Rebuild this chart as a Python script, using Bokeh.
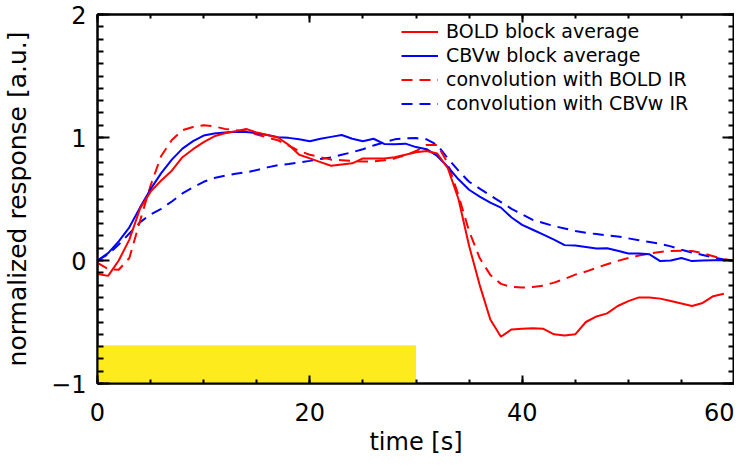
import numpy as np
from bokeh.plotting import figure
from bokeh.models import LinearAxis, FixedTicker, Legend, LegendItem, Range1d
from bokeh.embed import file_html
from bokeh.resources import INLINE

# ---------------- data ----------------
time_s = list(range(0, 61))

bold_block_avg = [-0.11, -0.125, 0.0, 0.17, 0.42, 0.56, 0.65, 0.73, 0.84, 0.905,
                  0.963, 1.01, 1.035, 1.05, 1.07, 1.04, 1.02, 1.0, 0.94, 0.86,
                  0.83, 0.80, 0.77, 0.78, 0.79, 0.83, 0.83, 0.83, 0.84, 0.86,
                  0.88, 0.89, 0.87, 0.75, 0.50, 0.12, -0.20, -0.48, -0.62, -0.56,
                  -0.555, -0.55, -0.555, -0.60, -0.61, -0.60, -0.50, -0.455, -0.43, -0.37,
                  -0.33, -0.30, -0.30, -0.31, -0.33, -0.35, -0.37, -0.345, -0.29, -0.27]

cbvw_block_avg = [0.0, 0.06, 0.156, 0.27, 0.43, 0.58, 0.71, 0.82, 0.91, 0.97,
                  1.016, 1.033, 1.04, 1.047, 1.045, 1.035, 1.02, 1.003, 0.997, 0.985,
                  0.97, 0.99, 1.005, 1.02, 0.99, 0.97, 0.99, 0.948, 0.945, 0.95,
                  0.922, 0.905, 0.85, 0.76, 0.66, 0.575, 0.52, 0.47, 0.43, 0.35,
                  0.29, 0.25, 0.21, 0.17, 0.125, 0.122, 0.11, 0.097, 0.10, 0.08,
                  0.057, 0.057, 0.05, -0.005, 0.0, 0.02, -0.005, 0.0, 0.003, 0.005, 0.0]

conv_bold_ir = [-0.02, -0.07, -0.075, 0.02, 0.32, 0.61, 0.85, 0.98, 1.06, 1.085,
                1.10, 1.09, 1.07, 1.06, 1.05, 1.025, 1.0, 0.977, 0.935, 0.89,
                0.86, 0.84, 0.82, 0.815, 0.81, 0.805, 0.805, 0.815, 0.83, 0.855,
                0.89, 0.94, 0.94, 0.79, 0.53, 0.24, 0.02, -0.117, -0.19, -0.215,
                -0.22, -0.215, -0.205, -0.18, -0.15, -0.115, -0.09, -0.06, -0.03, -0.003,
                0.02, 0.04, 0.057, 0.07, 0.078, 0.08, 0.077, 0.06, 0.035, 0.01, 0.0]

conv_cbvw_ir = [0.0, 0.05, 0.13, 0.22, 0.31, 0.375, 0.42, 0.48, 0.545, 0.595,
                0.64, 0.67, 0.69, 0.705, 0.717, 0.735, 0.757, 0.775, 0.785, 0.797,
                0.81, 0.825, 0.838, 0.86, 0.88, 0.905, 0.935, 0.96, 0.985, 0.993,
                0.995, 0.985, 0.94, 0.83, 0.73, 0.64, 0.585, 0.53, 0.475, 0.42,
                0.375, 0.33, 0.305, 0.28, 0.26, 0.24, 0.225, 0.215, 0.205, 0.196,
                0.18, 0.165, 0.15, 0.135, 0.115, 0.088, 0.065, 0.045, 0.025, 0.008, 0.0]

series_labels = ["BOLD block average", "CBVw block average",
                 "convolution with BOLD IR", "convolution with CBVw IR"]

stim_start = [0]
stim_end = [30]
stim_bar_bottom = [-1.0]
stim_bar_top = [-0.69]

x_major = [0, 20, 40, 60]
x_minor = list(range(0, 61, 5))
y_major = [-1, 0, 1, 2]
y_minor = [round(-1 + 0.1 * i, 1) for i in range(31)]
y_label_overrides = {-1: "\u22121"}

# ---------------- styling ----------------
FONT = "DejaVu Sans"
RED = "#FF0000"
BLUE = "#0000FF"
YELLOW = "#FDEB1E"

p = figure(width=734, height=462, output_backend="svg", toolbar_location=None,
           x_range=Range1d(0, 60), y_range=Range1d(-1, 2),
           min_border_left=88, min_border_right=0, min_border_top=14,
           min_border_bottom=79,
           x_axis_label="time [s]", y_axis_label="normalized response [a.u.]")
p.xgrid.visible = False
p.ygrid.visible = False
p.outline_line_color = "black"
p.outline_line_width = 2
p.background_fill_color = "white"
p.border_fill_color = "white"

p.quad(left=stim_start, right=stim_end, bottom=stim_bar_bottom, top=stim_bar_top,
       fill_color=YELLOW, line_color=None)

r4 = p.line(time_s, conv_cbvw_ir, line_color=BLUE, line_width=2, line_dash="11 7")
r3 = p.line(time_s, conv_bold_ir, line_color=RED, line_width=2, line_dash="11 7")
r2 = p.line(time_s, cbvw_block_avg, line_color=BLUE, line_width=2)
r1 = p.line(time_s[:len(bold_block_avg)], bold_block_avg, line_color=RED, line_width=2)


def style_axis(ax, tick_in, minor_in):
    ax.axis_line_width = 2
    ax.axis_line_color = "black"
    ax.major_tick_line_width = 2
    ax.minor_tick_line_width = 2
    ax.major_tick_line_color = "black"
    ax.minor_tick_line_color = "black"
    ax.major_tick_in = tick_in
    ax.major_tick_out = 0
    ax.minor_tick_in = minor_in
    ax.minor_tick_out = 0
    ax.major_label_text_font = FONT
    ax.major_label_text_font_size = "24px"
    ax.major_label_text_color = "black"
    ax.axis_label_text_font = FONT
    ax.axis_label_text_font_size = "24px"
    ax.axis_label_text_font_style = "normal"
    ax.axis_label_text_color = "black"


xt = FixedTicker(ticks=x_major, minor_ticks=x_minor)
yt = FixedTicker(ticks=y_major, minor_ticks=y_minor)

xa = p.xaxis[0]
xa.ticker = xt
style_axis(xa, 8, 4)
xa.major_label_standoff = 19
xa.axis_label_standoff = 4

ya = p.yaxis[0]
ya.ticker = yt
style_axis(ya, 12, 6)
ya.major_label_overrides = y_label_overrides
ya.major_label_standoff = 11
ya.axis_label_standoff = 16
ya.axis_label_text_font_size = "25px"

top = LinearAxis(ticker=xt, major_label_overrides={t: "" for t in x_major})
style_axis(top, 8, 4)
top.major_label_text_font_size = "0px"
top.major_label_standoff = 0
top.axis_label_standoff = 0
p.add_layout(top, "above")

right = LinearAxis(ticker=yt, major_label_overrides={t: "" for t in y_major})
style_axis(right, 12, 6)
right.major_label_text_font_size = "0px"
right.major_label_standoff = 0
right.axis_label_standoff = 0
p.add_layout(right, "right")

legend = Legend(items=[LegendItem(label=series_labels[0], renderers=[r1]),
                       LegendItem(label=series_labels[1], renderers=[r2]),
                       LegendItem(label=series_labels[2], renderers=[r3]),
                       LegendItem(label=series_labels[3], renderers=[r4])],
                location=(304, 269), padding=0, spacing=2, margin=0,
                label_height=21, glyph_height=21, glyph_width=37, label_standoff=8,
                border_line_color=None, background_fill_alpha=0,
                label_text_font=FONT, label_text_font_size="19px",
                label_text_color="black")
p.add_layout(legend)

open("out.html", "w").write(file_html(p, INLINE))
